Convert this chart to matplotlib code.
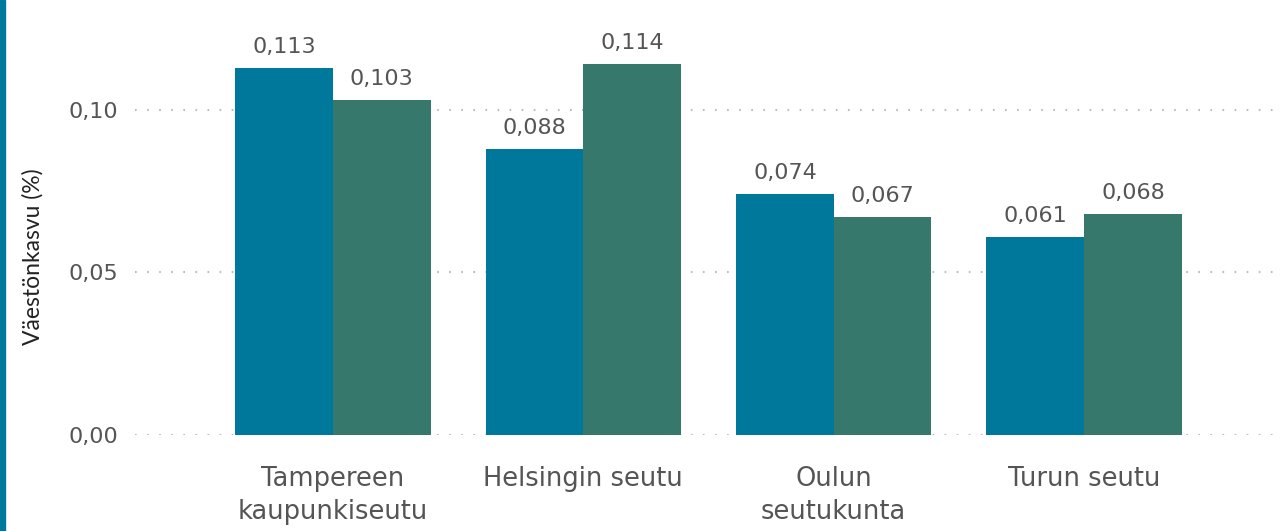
import matplotlib.pyplot as plt
import numpy as np

categories = ["Tampereen\nkaupunkiseutu", "Helsingin seutu", "Oulun\nseutukunta", "Turun seutu"]
series_a = [0.113, 0.088, 0.074, 0.061]
series_b = [0.103, 0.114, 0.067, 0.068]
yticks = [0.00, 0.05, 0.10]

plt.rcParams['font.family'] = ['DejaVu Sans']

blue = "#00789b"
green = "#36786b"
text_col = "#555555"

fig = plt.figure(figsize=(12.81, 5.31), dpi=100)
# left accent stripe
fig.patches.append(plt.Rectangle((0, 0), 5 / 1281, 1, transform=fig.transFigure,
                                 color="#00789b", zorder=0))

ax = fig.add_axes([135 / 1281, 96 / 531, 1146 / 1281, 405 / 531])
x = np.arange(len(categories))
w = 0.39
ba = ax.bar(x - w / 2, series_a, w, color=blue, zorder=2)
bb = ax.bar(x + w / 2, series_b, w, color=green, zorder=2)

for bars, vals in ((ba, series_a), (bb, series_b)):
    for r, v in zip(bars, vals):
        ax.annotate(f"{v:.3f}".replace(".", ","), (r.get_x() + r.get_width() / 2, v),
                    xytext=(0, 8), textcoords="offset points", ha="center", va="bottom",
                    fontsize=16, color=text_col)

ax.set_xlim(-0.79, 3.786)
ax.set_ylim(0, 0.1246)
ax.set_yticks(yticks)
ax.set_yticklabels([f"{t:.2f}".replace(".", ",") for t in yticks], fontsize=16, color=text_col)
ax.set_xticks(x)
ax.set_xticklabels(categories, fontsize=18.5, color=text_col, linespacing=1.37)
ax.tick_params(axis="both", length=0)
ax.tick_params(axis="y", pad=12)
ax.tick_params(axis="x", pad=22)
ax.yaxis.grid(True, linestyle=(0, (0.8, 5)), color="#bbbbbb", linewidth=1.5, zorder=0)
for s in ax.spines.values():
    s.set_visible(False)

fig.text(33 / 1281, 1 - 257 / 531, "Väestönkasvu (%)", rotation=90, ha="center", va="center",
         fontsize=16.5, color="#222222", family=["Lato", "DejaVu Sans"])

fig.savefig("out.png", dpi=100)
